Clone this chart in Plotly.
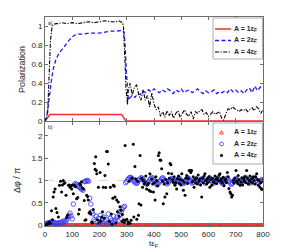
import plotly.graph_objects as go

# ---------------- top panel: polarization ----------------
t_A1 = [0, 18, 281, 297, 800]
pol_A1 = [0.0, 0.07, 0.07, 0.0, 0.0]

t_A2_head = [0, 5, 10, 15, 20, 25, 30, 35, 40, 50, 60, 70, 80, 90, 100, 110, 120, 140,
             160, 180, 200, 220, 240, 260, 275, 285, 290, 294, 298, 302, 306]
pol_A2_head = [0.0, 0.03, 0.12, 0.25, 0.36, 0.46, 0.55, 0.61, 0.65, 0.71, 0.75, 0.79, 0.83,
               0.86, 0.89, 0.91, 0.92, 0.92, 0.93, 0.93, 0.93, 0.94, 0.95, 0.95, 0.96, 0.96,
               0.94, 0.8, 0.55, 0.33, 0.22]
t_A2_tail = list(range(310, 801, 10))
pol_A2_tail = [0.24, 0.27, 0.25, 0.29, 0.28, 0.32, 0.30, 0.33, 0.31, 0.34,
               0.32, 0.30, 0.33, 0.31, 0.34, 0.32, 0.29, 0.33, 0.31, 0.34,
               0.30, 0.32, 0.33, 0.30, 0.32, 0.34, 0.31, 0.29, 0.32, 0.30,
               0.31, 0.33, 0.29, 0.31, 0.30, 0.32, 0.30, 0.34, 0.31, 0.33,
               0.30, 0.32, 0.29, 0.33, 0.35, 0.30, 0.37, 0.32, 0.36, 0.38]

t_A4_head = [0, 5, 10, 15, 20, 25, 30, 40, 50, 60, 80, 100, 120, 140, 160, 180, 200, 220,
             240, 260, 270, 280, 285, 288, 291, 294, 297, 300, 303]
pol_A4_head = [0.0, 0.03, 0.1, 0.45, 0.85, 0.98, 1.02, 1.03, 1.03, 1.04, 1.03, 1.04, 1.03,
               1.04, 1.05, 1.04, 1.05, 1.06, 1.05, 1.05, 1.06, 1.05, 1.04, 1.0, 0.85, 0.6,
               0.35, 0.2, 0.17]
t_A4_tail = list(range(304, 801, 8))
pol_A4_tail = [0.30, 0.40, 0.27, 0.36, 0.38, 0.28, 0.22, 0.33, 0.22, 0.27,
               0.15, 0.30, 0.18, 0.12, 0.15, 0.05, 0.10, 0.04, 0.11, 0.06,
               0.10, 0.03, 0.08, 0.11, 0.04, 0.08, 0.12, 0.07, 0.05, 0.10,
               0.02, 0.10, 0.08, 0.11, 0.12, 0.07, 0.09, 0.05, 0.08, 0.10,
               0.07, 0.09, 0.10, 0.03, 0.01, 0.08, 0.13, 0.12, 0.15, 0.13,
               0.12, 0.10, 0.12, 0.11, 0.13, 0.10, 0.12, 0.14, 0.11, 0.15,
               0.13, 0.08, 0.12]

# ---------------- bottom panel: phase difference ----------------
phase_t_A1 = list(range(0, 801, 4))
phase_A1 = [0.0] * len(phase_t_A1)

phase_t_A2 = list(range(0, 801, 4))
phase_A2 = [
    0.02, 0.03, 0.04, 0.05, 0.06, 0.05, 0.07, 0.08, 0.06, 0.05,
    0.04, 0.03, 0.05, 0.04, 0.06, 0.07, 0.05, 0.08, 0.10, 0.07,
    0.12, 0.18, 0.22, 0.27, 0.20, 0.14, 0.47, 0.90, 0.93, 0.91,
    0.88, 0.86, 0.84, 0.82, 0.80, 0.78, 0.97, 0.98, 0.99, 1.00,
    0.98, 0.60, 0.47, 0.30, 0.25, 0.12, 0.08, 0.20, 0.06, 0.15,
    0.05, 0.22, 0.10, 0.04, 0.18, 0.08, 0.12, 0.03, 0.25, 0.06,
    0.15, 0.10, 0.05, 0.20, 0.08, 0.12, 0.18, 0.10, 0.30, 0.22,
    0.30, 0.36, 0.40, 0.42, 0.95,
    0.98, 1.02, 1.05, 1.07, 1.06, 1.04, 1.00, 0.97, 0.95, 0.93, 0.96,
    1.00, 1.03, 1.06, 1.05, 1.02, 0.98, 0.95, 0.92, 0.94, 0.97,
    1.01, 1.04, 1.07, 1.05, 1.01, 0.97, 0.93, 0.90, 0.93, 0.97,
    1.00, 1.04, 1.06, 1.03, 0.99, 0.95, 0.92, 0.95, 0.99, 1.02,
    1.04, 1.02, 0.98, 0.95, 0.97, 1.00, 1.03, 1.05, 1.02, 0.98,
    0.95, 0.93, 0.96, 1.00, 1.03, 1.06, 1.04, 1.00, 0.97, 0.94,
    0.96, 1.00, 1.03, 1.01, 0.98, 0.95, 0.98, 1.02, 1.04, 1.01,
    0.97, 0.94, 0.97, 1.01, 1.04, 1.06, 1.03, 0.99, 0.96, 0.94,
    0.97, 1.00, 1.03, 1.05, 1.02, 0.98, 0.95, 0.93, 0.96, 1.00,
    1.03, 1.05, 1.02, 0.98, 0.94, 0.91, 0.94, 0.98, 1.01, 1.04,
    1.02, 0.99, 0.96, 0.93, 0.95, 0.99, 1.02, 1.05, 1.07, 1.04,
    1.00, 0.96, 0.94, 0.97, 1.01, 1.05, 1.07, 1.04, 1.00, 0.96,
    0.94, 0.97, 1.00, 1.02, 1.00]

phase_t_A4 = [
    0, 3, 6, 10, 13, 16, 20, 24, 27, 30,
    33, 37, 40, 44, 49, 53, 57, 61, 64, 67,
    70, 73, 77, 80, 83, 86, 89, 92, 95, 98,
    101, 104, 108, 112, 116, 120, 123, 126, 128, 131,
    134, 137, 141, 144, 147, 150, 153, 156, 159, 162,
    165, 168, 171, 174, 177, 181, 184, 186, 188, 190,
    193, 196, 199, 202, 205, 208, 211, 214, 217, 220,
    223, 226, 229, 232, 236, 240, 243, 246, 249, 251,
    254, 257, 260, 263, 266, 269, 272, 275, 279, 282,
    284, 288, 291, 294, 297, 300, 303, 306, 309, 312,
    316, 319, 324, 326, 330, 333, 337, 340, 343, 345,
    349, 352, 355, 358, 361, 364, 367, 370, 373, 376,
    379, 382, 385, 388, 392, 395, 398, 401, 404, 407,
    410, 413, 416, 419, 422, 425, 428, 431, 434, 437,
    440, 443, 447, 450, 453, 456, 459, 462, 465, 468,
    471, 474, 477, 480, 483, 486, 490, 493, 496, 499,
    502, 505, 508, 511, 514, 517, 520, 523, 526, 529,
    532, 535, 538, 541, 544, 547, 550, 553, 556, 559,
    562, 565, 568, 571, 575, 578, 581, 584, 587, 590,
    593, 596, 599, 602, 605, 608, 612, 615, 618, 621,
    624, 627, 630, 633, 636, 639, 642, 645, 648, 651,
    654, 657, 660, 663, 666, 669, 672, 675, 679, 682,
    685, 688, 691, 694, 697, 701, 704, 707, 709, 712,
    716, 719, 722, 725, 728, 731, 734, 737, 740, 743,
    746, 749, 752, 755, 758, 761, 764, 767, 770, 773,
    777, 780, 783, 786, 789, 792, 795, 798, 800]
phase_A4 = [
    0.0, 0.01, 0.02, 0.03, 0.05, 0.07, 0.04, 0.32, 0.12, 0.63,
    0.74, 0.81, 0.37, 0.28, 0.18, 0.89, 0.98, 0.74, 0.9, 1.0,
    0.93, 0.95, 0.67, 0.17, 0.22, 0.89, 0.9, 0.85, 0.88, 0.81,
    0.9, 0.7, 0.89, 0.86, 0.59, 0.62, 0.25, 0.35, 0.93, 0.9,
    0.97, 0.83, 0.81, 0.55, 0.11, 0.12, 0.67, 0.64, 0.56, 0.27,
    0.3, 0.25, 0.07, 0.05, 0.35, 1.38, 1.25, 1.53, 1.22, 1.15,
    0.12, 0.85, 0.05, 1.18, 0.1, 0.18, 0.3, 0.85, 0.16, 1.11,
    0.84, 1.65, 1.65, 1.37, 0.08, 0.85, 0.25, 0.02, 0.6, 0.89,
    0.87, 0.63, 0.05, 0.56, 0.3, 0.52, 0.2, 0.41, 0.33, 0.08,
    0.24, 0.12, 0.06, 1.78, 0.11, 0.13, 0.03, 0.07, 0.98, 0.04,
    0.11, 1.05, 1.81, 0.18, 1.31, 1.04, 0.13, 0.98, 0.22, 0.48,
    1.56, 0.45, 1.05, 0.85, 1.0, 0.92, 0.95, 1.1, 0.81, 0.9,
    0.93, 0.78, 1.15, 0.75, 1.03, 0.92, 0.74, 0.95, 0.56, 1.08,
    1.0, 0.88, 1.56, 1.62, 1.46, 1.45, 1.26, 0.98, 0.48, 0.92,
    0.63, 1.02, 0.7, 0.95, 1.16, 1.05, 1.38, 1.35, 1.15, 1.02,
    0.96, 1.08, 0.89, 0.95, 0.81, 1.04, 1.1, 0.93, 1.02, 0.9,
    1.15, 1.0, 0.78, 0.96, 0.67, 1.05, 1.11, 0.93, 1.05, 1.22,
    1.22, 1.18, 1.22, 0.97, 1.08, 0.85, 1.02, 0.94, 1.06, 0.92,
    1.12, 0.98, 1.03, 0.9, 0.63, 1.05, 0.95, 1.1, 1.15, 1.0,
    0.92, 1.04, 0.96, 1.08, 0.85, 1.02, 0.89, 1.05, 0.97, 0.95,
    1.1, 1.02, 0.93, 1.06, 1.0, 1.12, 1.15, 0.98, 1.04, 0.94,
    1.07, 0.88, 1.0, 1.03, 0.95, 1.18, 1.08, 0.82, 0.74, 0.7,
    0.63, 0.67, 1.0, 0.94, 1.05, 1.22, 0.98, 0.93, 1.11, 1.02,
    0.89, 0.96, 1.06, 0.9, 1.03, 0.98, 1.08, 0.95, 1.22, 1.05,
    0.92, 1.0, 1.1, 0.97, 1.04, 0.94, 1.07, 1.0, 0.92, 1.08,
    1.15, 1.02, 0.89, 1.0, 0.85, 0.95, 0.8, 1.0, 0.81]

series_names = ["A = 1ε<sub>F</sub>", "A = 2ε<sub>F</sub>", "A = 4ε<sub>F</sub>"]
x_ticks = [0, 100, 200, 300, 400, 500, 600, 700, 800]
pol_ticks = [0, 0.2, 0.4, 0.6, 0.8, 1]
pol_ticklabels = ["0", "0.2", "0.4", "0.6", "0.8", "1"]
phase_ticks = [0, 0.5, 1, 1.5, 2]
phase_ticklabels = ["0", "0.5", "1", "1.5", "2"]

FONT = "Liberation Sans"
TXT = "#262626"
AX = "#6e6e6e"
RED = "#ff2a2a"
BLUE = "#1a1aff"
BLUE_DASH = "4px,2.5px"
BLACK_DASHDOT = "4px,1.5px,1.2px,1.5px"

# plot area in window pixels (page body keeps an 8 px offset)
PL, PR, PT, PB = 45, 263, 17, 226


def px_x(x):
    return (x - PL) / (PR - PL)


def px_y(y):
    return (PB - y) / (PB - PT)


fig = go.Figure()

# top panel lines
fig.add_trace(go.Scatter(x=t_A1, y=pol_A1, mode="lines", name=series_names[0],
                         line=dict(color=RED, width=1.5), xaxis="x2", yaxis="y2"))
fig.add_trace(go.Scatter(x=t_A2_head + t_A2_tail, y=pol_A2_head + pol_A2_tail, mode="lines",
                         name=series_names[1], line=dict(color=BLUE, width=1.3, dash=BLUE_DASH),
                         xaxis="x2", yaxis="y2"))
fig.add_trace(go.Scatter(x=t_A4_head + t_A4_tail, y=pol_A4_head + pol_A4_tail, mode="lines",
                         name=series_names[2],
                         line=dict(color="black", width=1.1, dash=BLACK_DASHDOT),
                         xaxis="x2", yaxis="y2"))

# bottom panel markers
fig.add_trace(go.Scatter(x=phase_t_A1, y=phase_A1, mode="markers", name=series_names[0],
                         marker=dict(symbol="triangle-up-open", color=RED, size=4,
                                     line=dict(width=1)), xaxis="x", yaxis="y"))
fig.add_trace(go.Scatter(x=phase_t_A2, y=phase_A2, mode="markers", name=series_names[1],
                         marker=dict(symbol="circle-open", color="#3535ff", size=4.5,
                                     line=dict(width=0.8)), xaxis="x", yaxis="y"))
fig.add_trace(go.Scatter(x=phase_t_A4, y=phase_A4, mode="markers", name=series_names[2],
                         marker=dict(symbol="circle", color="black", size=3),
                         xaxis="x", yaxis="y"))

common_x = dict(range=[0, 800], tickvals=x_ticks, ticks="inside", ticklen=3, tickcolor=AX,
                showline=True, linecolor=AX, linewidth=0.8, mirror="ticks",
                showgrid=False, zeroline=False, automargin=False)
common_y = dict(ticks="inside", ticklen=3, tickcolor=AX, showline=True, linecolor=AX,
                linewidth=0.8, mirror="ticks", showgrid=False, zeroline=False,
                automargin=False, tickfont=dict(size=8, color=TXT))
fig.update_layout(
    width=291, height=243,
    margin=dict(l=37, r=36, t=9, b=25, autoexpand=False),
    paper_bgcolor="white", plot_bgcolor="white",
    font=dict(family=FONT, size=8, color=TXT),
    showlegend=False,
    xaxis=dict(**common_x, anchor="y", ticktext=[str(v) for v in x_ticks],
               tickfont=dict(size=8, color=TXT)),
    yaxis=dict(**common_y, domain=[0, 0.498], range=[-0.02, 2.31], tickvals=phase_ticks,
               ticktext=phase_ticklabels),
    xaxis2=dict(**common_x, anchor="y2", matches="x", showticklabels=False),
    yaxis2=dict(**common_y, domain=[0.502, 1], range=[0, 1.1], tickvals=pol_ticks,
                ticktext=pol_ticklabels),
)

# faint reference line at phase = 1
fig.add_shape(type="line", xref="x", yref="y", x0=0, x1=800, y0=1, y1=1,
              line=dict(color="#b8d8ee", width=0.8, dash="dash"), layer="below")

# ---- custom legends (drawn as decorations) ----
LEG_BORDER = "#8a8a8a"
# top legend
fig.add_shape(type="rect", xref="paper", yref="paper", x0=px_x(213), x1=px_x(262.5),
              y0=px_y(59), y1=px_y(18), line=dict(color=LEG_BORDER, width=0.7),
              fillcolor="white", layer="above")
top_rows = [29, 40.5, 52]
top_styles = [dict(color=RED, width=1.5), dict(color=BLUE, width=1.3, dash=BLUE_DASH),
              dict(color="black", width=1.1, dash=BLACK_DASHDOT)]
for yy, st, nm in zip(top_rows, top_styles, series_names):
    fig.add_shape(type="line", xref="paper", yref="paper", x0=px_x(215), x1=px_x(231),
                  y0=px_y(yy), y1=px_y(yy), line=st, layer="above")
    fig.add_annotation(text="<b>" + nm + "</b>", xref="paper", yref="paper", x=px_x(231.5),
                       y=px_y(yy - 0.5), xanchor="left", yanchor="middle", showarrow=False,
                       font=dict(size=7, color=TXT))

# bottom legend
fig.add_shape(type="rect", xref="paper", yref="paper", x0=px_x(213), x1=px_x(262.5),
              y0=px_y(164), y1=px_y(123), line=dict(color=LEG_BORDER, width=0.7),
              fillcolor="white", layer="above")
bot_rows = [132.5, 144, 155.5]
mx = 221.5
# triangle
r = 1.9
fig.add_shape(type="path", xref="paper", yref="paper",
              path="M {:.4f},{:.4f} L {:.4f},{:.4f} L {:.4f},{:.4f} Z".format(
                  px_x(mx - r), px_y(bot_rows[0] + r * 0.8), px_x(mx + r),
                  px_y(bot_rows[0] + r * 0.8), px_x(mx), px_y(bot_rows[0] - r)),
              line=dict(color=RED, width=0.9), layer="above")
fig.add_shape(type="circle", xref="paper", yref="paper", x0=px_x(mx - 1.9),
              x1=px_x(mx + 1.9), y0=px_y(bot_rows[1] + 1.9), y1=px_y(bot_rows[1] - 1.9),
              line=dict(color="#3535ff", width=0.8), layer="above")
fig.add_shape(type="circle", xref="paper", yref="paper", x0=px_x(mx - 1.3),
              x1=px_x(mx + 1.3), y0=px_y(bot_rows[2] + 1.3), y1=px_y(bot_rows[2] - 1.3),
              line=dict(color="black", width=0.5), fillcolor="black", layer="above")
for yy, nm in zip(bot_rows, series_names):
    fig.add_annotation(text="<b>" + nm + "</b>", xref="paper", yref="paper", x=px_x(231.5),
                       y=px_y(yy - 0.5), xanchor="left", yanchor="middle", showarrow=False,
                       font=dict(size=7, color=TXT))

# axis titles and panel labels
fig.add_annotation(text="Polarization", xref="paper", yref="paper", x=px_x(22), y=px_y(70),
                   xanchor="center", yanchor="middle", textangle=-90, showarrow=False,
                   font=dict(size=9, color=TXT))
fig.add_annotation(text="Δφ / π", xref="paper", yref="paper", x=px_x(17), y=px_y(180),
                   xanchor="center", yanchor="middle", textangle=-90, showarrow=False,
                   font=dict(size=9, color=TXT))
fig.add_annotation(text="tε<sub>F</sub>", xref="paper", yref="paper", x=px_x(154),
                   y=px_y(244), xanchor="center", yanchor="middle", showarrow=False,
                   font=dict(size=8, color=TXT))
fig.add_annotation(text="a)", xref="paper", yref="paper", x=px_x(46), y=px_y(18),
                   xanchor="left", yanchor="top", showarrow=False, font=dict(size=5, color=TXT))
fig.add_annotation(text="b)", xref="paper", yref="paper", x=px_x(46), y=px_y(122),
                   xanchor="left", yanchor="top", showarrow=False, font=dict(size=5, color=TXT))

fig.write_html("out.html")
